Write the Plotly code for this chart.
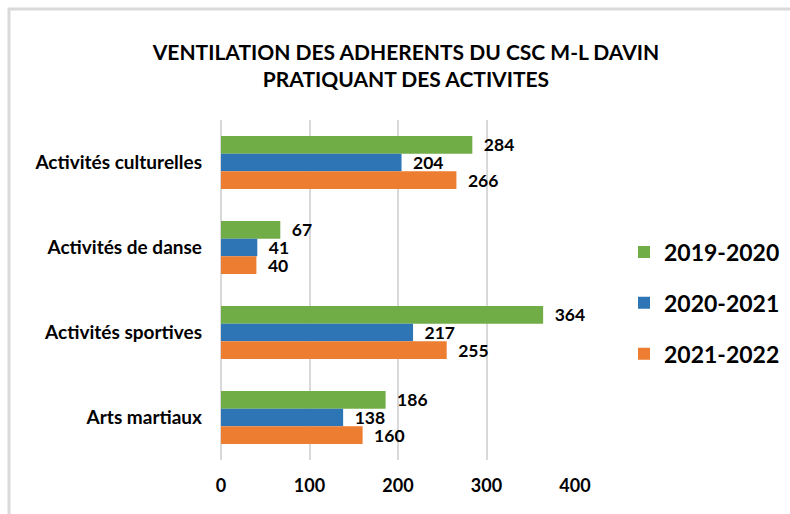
import plotly.graph_objects as go

categories = ["Activités culturelles", "Activités de danse", "Activités sportives", "Arts martiaux"]
series_names = ["2019-2020", "2020-2021", "2021-2022"]
values_2019_2020 = [284, 67, 364, 186]
values_2020_2021 = [204, 41, 217, 138]
values_2021_2022 = [266, 40, 255, 160]
colors = ["#70AD47", "#2E75B6", "#ED7D31"]
x_ticks = [0, 100, 200, 300, 400]
title_text = "VENTILATION DES ADHERENTS DU CSC M-L DAVIN<br>PRATIQUANT DES ACTIVITES"

FONT = "Lato, Open Sans, sans-serif"
all_values = [values_2019_2020, values_2020_2021, values_2021_2022]

fig = go.Figure()
for i in range(3):
    fig.add_trace(go.Bar(
        y=categories, x=all_values[i], name=series_names[i], orientation="h",
        marker=dict(color=colors[i], line=dict(width=0)),
        text=all_values[i], texttemplate="  %{x}", textposition="outside",
        textfont=dict(family=FONT, size=17.5, color="#000000", weight="bold"),
        constraintext="none", cliponaxis=False, legendgroup=series_names[i],
    ))

W, H = 790, 514
L, R, T, B = 221, 215, 120, 54
pw, ph = W - L - R, H - T - B

def px_x(p):
    return (p - L) / pw

def px_y(p):
    return (H - B - p) / ph

fig.update_layout(
    width=W, height=H,
    margin=dict(l=L, r=R, t=T, b=B, autoexpand=False),
    paper_bgcolor="white", plot_bgcolor="white",
    barmode="group", bargap=0.376, bargroupgap=0,
    font=dict(family=FONT, color="#000000"),
    title=dict(text=title_text, x=406 / W, xref="container", xanchor="center",
               y=1 - 60 / H, yref="container", yanchor="middle",
               font=dict(family=FONT, size=21, color="#000000", weight="bold")),
    xaxis=dict(range=[0, 400], tickvals=x_ticks, showgrid=True, gridcolor="#D9D9D9", gridwidth=2,
               zeroline=True, zerolinecolor="#D9D9D9", zerolinewidth=2, showline=False,
               ticks="", ticklabelstandoff=13, automargin=False,
               tickfont=dict(family=FONT, size=18, color="#000000", weight="bold")),
    yaxis=dict(categoryorder="array", categoryarray=categories, autorange="reversed",
               showgrid=False, showline=False, ticks="", ticklabelstandoff=18, automargin=False,
               tickfont=dict(family=FONT, size=19, color="#000000", weight="bold")),
    legend=dict(x=px_x(624), xanchor="left", y=px_y(303), yanchor="middle",
                traceorder="grouped", tracegroupgap=18,
                font=dict(family=FONT, size=23, color="#000000", weight="bold"),
                itemwidth=30, bgcolor="rgba(0,0,0,0)"),
    showlegend=True,
    shapes=[dict(type="rect", xref="paper", yref="paper",
                 x0=px_x(9), x1=px_x(820), y0=px_y(540), y1=px_y(9),
                 line=dict(color="#D9D9D9", width=3), fillcolor="rgba(0,0,0,0)", layer="below")],
)

fig.write_html("out.html", config={"displayModeBar": False},
               post_script="document.body.style.margin='0';")
